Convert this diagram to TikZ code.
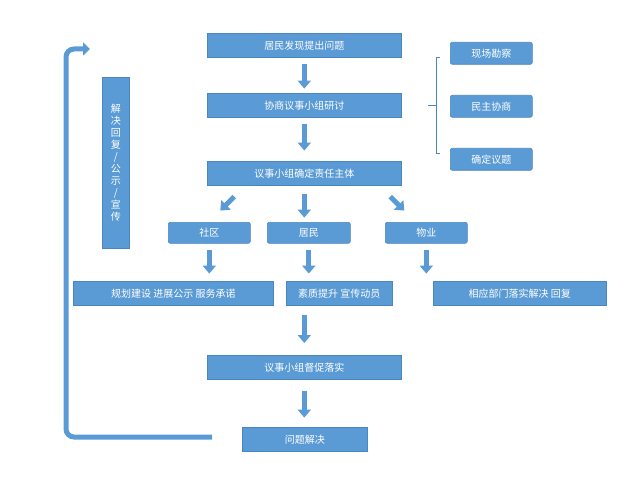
\documentclass[tikz,border=0pt]{standalone}
\usepackage{fontspec}
\setmainfont{Noto Sans CJK SC}
\usetikzlibrary{arrows.meta}
\definecolor{bf}{HTML}{5B9BD5}
\definecolor{bd}{HTML}{4A86C0}
\begin{document}
\begin{tikzpicture}[x=1pt,y=-1pt,
 box/.style={fill=bf,draw=bd,line width=0.6pt,text=white,font=\fontsize{10}{12}\selectfont,inner sep=0pt,anchor=north west},
 rbox/.style={box,rounded corners=2pt},
 barr/.style={bf,line width=5pt,-{Triangle[length=8pt,width=13pt]}}]
\useasboundingbox (0,0) rectangle (641,487);
\node[box,minimum width=194,minimum height=24] (a) at (207,33) {居民发现提出问题};
\node[box,minimum width=194,minimum height=24] (b) at (207,93) {协商议事小组研讨};
\node[box,minimum width=194,minimum height=24] (c) at (207,161) {议事小组确定责任主体};
\node[rbox,minimum width=82,minimum height=22] (r1) at (450,42) {现场勘察};
\node[rbox,minimum width=82,minimum height=22] (r2) at (450,95) {民主协商};
\node[rbox,minimum width=82,minimum height=22] (r3) at (450,148) {确定议题};
\node[box,minimum width=27,minimum height=171] (v) at (102,77) {};
\node[white,font=\fontsize{10}{12}\selectfont,align=center,inner sep=0pt] (vt) at (v.center) {解\\决\\回\\复\\/\\公\\示\\/\\宣\\传};
\node[rbox,minimum width=82,minimum height=21] (s1) at (168,222) {社区};
\node[rbox,minimum width=83,minimum height=21] (s2) at (267,222) {居民};
\node[rbox,minimum width=82,minimum height=21] (s3) at (385,222) {物业};
\node[box,minimum width=200,minimum height=24] (t1) at (73,281) {规划建设 进展公示 服务承诺};
\node[box,minimum width=106,minimum height=24] (t2) at (286,281) {素质提升 宣传动员};
\node[box,minimum width=173,minimum height=24] (t3) at (433,281) {相应部门落实解决 回复};
\node[box,minimum width=194,minimum height=24] (d) at (207,355) {议事小组督促落实};
\node[box,minimum width=125,minimum height=24] (e) at (242,427) {问题解决};
\draw[barr] (a.south) ++(0,6) -- ++(0,25);
\draw[barr] (b.south) ++(0,6) -- ++(0,27);
\draw[barr] (c.south) ++(0,8) -- ++(0,24);
\draw[barr] (c.south) ++(-70,11) -- ++(-14,14);
\draw[barr] (c.south) ++(86,11) -- ++(14,14);
\draw[barr] (s1.south) ++(0,6) -- ++(0,24);
\draw[barr] (s2.south) ++(0,6) -- ++(0,24);
\draw[barr] (s3.south) ++(0,6) -- ++(0,24);
\draw[barr] (d.north) ++(0,-40) -- ++(0,28);
\draw[barr] (d.south) ++(0,11) -- ++(0,27);
\draw[bd,line width=0.8pt] (440,57) -- (436,57) -- (436,153) -- (440,153);
\draw[bd,line width=0.8pt] (428,105) -- (436,105);
\coordinate (lt) at (90,49);
\draw[bf,line width=5pt,-{Triangle[length=7pt,width=13pt]},rounded corners=8pt] (212,437) -- (66,437) -- (66,49) -- (lt);
\end{tikzpicture}
\end{document}
